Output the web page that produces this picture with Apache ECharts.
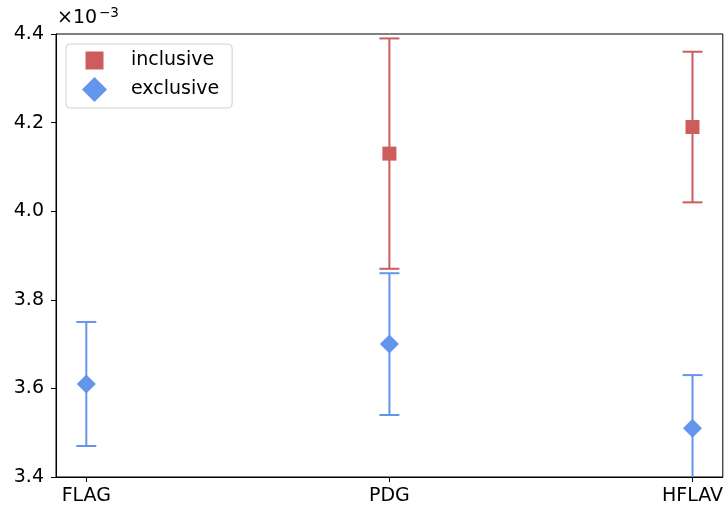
<!DOCTYPE html>
<html>
<head>
<meta charset="utf-8">
<script src="https://cdn.jsdelivr.net/npm/echarts@6/dist/echarts.min.js"></script>
<style>
  html, body { margin: 0; padding: 0; background: #fff; }
  #chart { width: 726px; height: 510px; }
</style>
</head>
<body>
<div id="chart"></div>
<script>
// values in units of 1e-3
const categories = ['FLAG', 'PDG', 'HFLAV'];
const inclusiveVal = [null, 4.13, 4.19];
const inclusiveLow = [null, 3.87, 4.02];
const inclusiveHigh = [null, 4.39, 4.36];
const exclusiveVal = [3.61, 3.70, 3.51];
const exclusiveLow = [3.47, 3.54, 3.35];
const exclusiveHigh = [3.75, 3.86, 3.63];
const yTicks = [3.4, 3.6, 3.8, 4.0, 4.2, 4.4];

const RED = '#cd5c5c';
const BLUE = '#6495ed';
const FONT = 'DejaVu Sans';
const FS = 19;

function points(vals) {
  const out = [];
  vals.forEach((v, i) => { if (v != null) out.push([i, v]); });
  return out;
}
function bars(lo, hi) {
  const out = [];
  lo.forEach((v, i) => { if (v != null) out.push([i, v, hi[i]]); });
  return out;
}

// vertical line with caps
function errorBar(color) {
  return function (params, api) {
    const x = api.value(0);
    const a = api.coord([x, api.value(1)]);
    const b = api.coord([x, api.value(2)]);
    const hw = 10;
    const style = { stroke: color, lineWidth: 2, fill: null };
    return {
      type: 'group',
      children: [
        { type: 'line', shape: { x1: a[0], y1: a[1], x2: b[0], y2: b[1] }, style },
        { type: 'line', shape: { x1: a[0] - hw, y1: a[1], x2: a[0] + hw, y2: a[1] }, style },
        { type: 'line', shape: { x1: b[0] - hw, y1: b[1], x2: b[0] + hw, y2: b[1] }, style }
      ]
    };
  };
}

const chart = echarts.init(document.getElementById('chart'), null, { renderer: 'canvas' });
chart.setOption({
  animation: false,
  backgroundColor: '#fff',
  textStyle: { fontFamily: FONT },
  grid: {
    left: 56, right: 3, top: 34, bottom: 33,
    show: true, borderColor: '#000', borderWidth: 1, backgroundColor: 'transparent'
  },
  xAxis: {
    type: 'value', min: -0.1, max: 2.1,
    splitLine: { show: false },
    axisLine: { show: true, onZero: false, lineStyle: { color: '#000', width: 1 } },
    axisTick: { show: true, length: 5, lineStyle: { color: '#000' }, customValues: [0, 1, 2] },
    axisLabel: {
      customValues: [0, 1, 2], color: '#000', fontSize: FS, margin: 10,
      formatter: v => categories[Math.round(v)]
    }
  },
  yAxis: {
    type: 'value', min: 3.4, max: 4.4,
    splitLine: { show: false },
    axisLine: { show: true, onZero: false, lineStyle: { color: '#000', width: 1 } },
    axisTick: { show: true, length: 5, lineStyle: { color: '#000' }, customValues: yTicks },
    axisLabel: {
      customValues: yTicks, color: '#000', fontSize: FS, margin: 12,
      formatter: v => v.toFixed(1)
    }
  },
  legend: {
    left: 66, top: 44, orient: 'vertical',
    backgroundColor: '#fff', borderColor: '#d0d0d0', borderWidth: 1, borderRadius: 4,
    padding: [4, 13, 6, 16], itemGap: 4, itemWidth: 25, itemHeight: 25,
    textStyle: { fontSize: FS, color: '#000', padding: [0, 0, 0, 19] },
    data: [
      { name: 'inclusive', icon: 'path://M0,0M3.5,3.5h18v18h-18zM25,25', itemStyle: { color: RED } },
      { name: 'exclusive', icon: 'diamond', itemStyle: { color: BLUE } }
    ]
  },
  graphic: [
    { type: 'text', left: 57, top: 9, style: { text: '×10', fontSize: FS, fontFamily: FONT, fill: '#000' } },
    { type: 'text', left: 99, top: 6, style: { text: '−3', fontSize: 13.5, fontFamily: FONT, fill: '#000' } }
  ],
  series: [
    {
      type: 'custom', name: 'inclusive', clip: true, z: 2, silent: true,
      renderItem: errorBar(RED), data: bars(inclusiveLow, inclusiveHigh)
    },
    {
      type: 'custom', name: 'exclusive', clip: true, z: 2, silent: true,
      renderItem: errorBar(BLUE), data: bars(exclusiveLow, exclusiveHigh)
    },
    {
      type: 'scatter', name: 'inclusive', symbol: 'rect', symbolSize: 14, z: 3,
      itemStyle: { color: RED, opacity: 1 }, data: points(inclusiveVal)
    },
    {
      type: 'scatter', name: 'exclusive', symbol: 'diamond', symbolSize: 19, z: 3,
      itemStyle: { color: BLUE, opacity: 1 }, data: points(exclusiveVal)
    }
  ]
});
</script>
</body>
</html>
